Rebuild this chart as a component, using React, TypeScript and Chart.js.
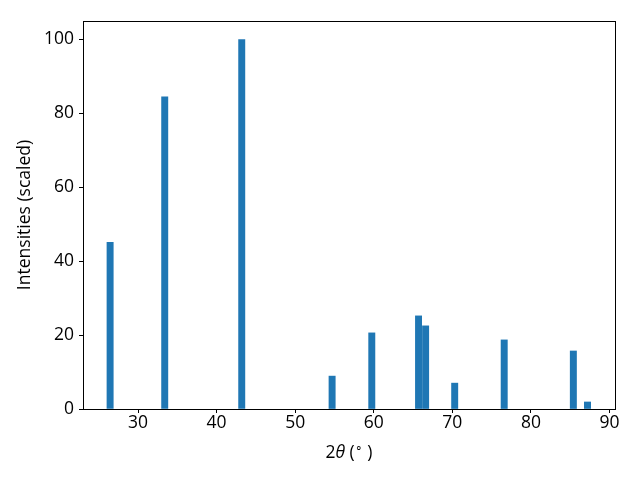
import React, { useEffect, useRef } from "react";
import { Chart, registerables } from "chart.js";

Chart.register(...registerables);

const twoTheta = [26.45, 33.4, 43.2, 54.7, 59.75, 65.7, 66.6, 70.3, 76.6, 85.4, 87.2];
const intensities = [45.1, 84.5, 100, 8.9, 20.6, 25.2, 22.5, 7.0, 18.7, 15.7, 1.9];
const xTicks = [30, 40, 50, 60, 70, 80, 90];
const yTicks = [0, 20, 40, 60, 80, 100];
const xLabel = ["2", "θ", " (", "∘", " )"];
const yLabel = "Intensities (scaled)";

const FONT = "'Open Sans', sans-serif";
const FS = 17.5;

const framePlugin = {
  id: "frame",
  afterDraw(chart: any) {
    const { ctx, chartArea } = chart;
    ctx.save();
    ctx.strokeStyle = "#000";
    ctx.lineWidth = 1;
    ctx.strokeRect(
      Math.round(chartArea.left) + 0.5,
      Math.round(chartArea.top) + 0.5,
      Math.round(chartArea.right - chartArea.left),
      Math.round(chartArea.bottom - chartArea.top)
    );
    // y axis title
    ctx.fillStyle = "#000";
    ctx.font = `${FS}px ${FONT}`;
    ctx.textAlign = "center";
    ctx.textBaseline = "middle";
    ctx.translate(25, (chartArea.top + chartArea.bottom) / 2);
    ctx.rotate(-Math.PI / 2);
    ctx.fillText(yLabel, 0, 0);
    ctx.restore();

    // x axis title with mathtext-like styling
    ctx.save();
    ctx.fillStyle = "#000";
    ctx.textBaseline = "alphabetic";
    ctx.textAlign = "left";
    const fonts = [
      `${FS}px ${FONT}`,
      `italic ${FS}px ${FONT}`,
      `${FS}px ${FONT}`,
      `${FS * 0.7}px ${FONT}`,
      `${FS}px ${FONT}`,
    ];
    const dy = [0, 0, 0, -6, 0];
    let total = 0;
    const widths = xLabel.map((t, i) => {
      ctx.font = fonts[i];
      const w = ctx.measureText(t).width;
      total += w;
      return w;
    });
    let x = (chartArea.left + chartArea.right) / 2 - total / 2;
    const baseY = 458;
    xLabel.forEach((t, i) => {
      ctx.font = fonts[i];
      ctx.fillText(t, x, baseY + dy[i]);
      x += widths[i];
    });
    ctx.restore();
  },
};

export default function App() {
  const ref = useRef<HTMLCanvasElement>(null);
  useEffect(() => {
    if (!ref.current) return;
    const chart = new Chart(ref.current, {
      type: "bar",
      data: {
        datasets: [
          {
            data: twoTheta.map((x, i) => ({ x, y: intensities[i] })),
            backgroundColor: "#1f77b4",
            borderWidth: 0,
            barThickness: 6.3,
          },
        ],
      },
      options: {
        animation: false,
        responsive: false,
        maintainAspectRatio: false,
        layout: { padding: { top: 21, right: 25, left: 0, bottom: 0 } },
        plugins: { legend: { display: false }, tooltip: { enabled: false } },
        scales: {
          x: {
            type: "linear",
            min: 23.0,
            max: 90.7,
            offset: false,
            grid: { display: true, offset: false, drawOnChartArea: false, drawTicks: true, tickLength: 4, tickColor: "#000", tickWidth: 1 },
            border: { display: false },
            afterBuildTicks: (s: any) => {
              s.ticks = xTicks.map((v) => ({ value: v }));
            },
            afterFit: (s: any) => {
              s.height = 71;
            },
            ticks: {
              color: "#000",
              font: { family: FONT, size: FS },
              padding: 0,
              maxRotation: 0,
              autoSkip: false,
              callback: (v: any) => String(v),
            },
          },
          y: {
            min: 0,
            max: 105,
            grid: { display: true, offset: false, drawOnChartArea: false, drawTicks: true, tickLength: 4, tickColor: "#000", tickWidth: 1 },
            border: { display: false },
            afterBuildTicks: (s: any) => {
              s.ticks = yTicks.map((v) => ({ value: v }));
            },
            afterFit: (s: any) => {
              s.width = 83;
            },
            ticks: {
              color: "#000",
              font: { family: FONT, size: FS },
              padding: 5,
              autoSkip: false,
              callback: (v: any) => String(v),
            },
          },
        },
      },
      plugins: [framePlugin],
    });
    return () => chart.destroy();
  }, []);
  return (
    <div style={{ position: "fixed", left: 0, top: 0, width: 640, height: 480, background: "#fff" }}>
      <canvas ref={ref} width={640} height={480} style={{ width: 640, height: 480 }} />
    </div>
  );
}
